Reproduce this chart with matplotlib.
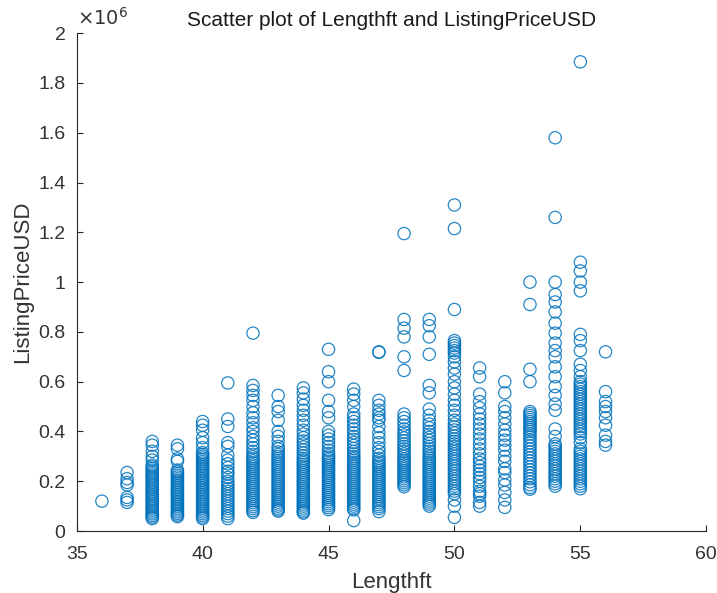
import matplotlib.pyplot as plt
import numpy as np

# listing prices in thousands of USD, one list per boat length (ft)
price_36 = [120]
price_37 = [235, 210, 195, 185, 135, 125, 115]
price_38 = [360, 345, 320, 300, 285, 265, 258, 251, 244, 237, 230, 223, 216, 209, 202,
            195, 188, 181, 174, 167, 160, 153, 146, 139, 132, 125, 118, 111, 104, 97,
            90, 83, 76, 69, 62, 56, 50]
price_39 = [345, 330, 290, 280, 245, 238, 231, 224, 217, 210, 203, 196, 189, 182, 175,
            168, 161, 154, 147, 140, 133, 126, 119, 112, 105, 98, 91, 84, 77, 70, 64, 58]
price_40 = [440, 425, 405, 375, 355, 335, 315, 308, 301, 294, 287, 280, 273, 266, 259,
            252, 245, 238, 231, 224, 217, 210, 203, 196, 189, 182, 175, 168, 161, 154,
            147, 140, 133, 126, 119, 112, 105, 98, 91, 84, 77, 70, 63, 56, 50]
price_41 = [595, 450, 420, 355, 340, 305, 285, 270, 255, 240, 230, 215, 200, 190, 180,
            170, 160, 150, 140, 130, 120, 110, 100, 90, 80, 70, 60, 50]
price_42 = [795, 585, 565, 545, 525, 500, 475, 455, 435, 415, 400, 380, 365, 350, 335,
            320, 308, 298, 290, 282, 274, 266, 258, 250, 242, 234, 226, 218, 210, 202,
            194, 186, 178, 170, 162, 154, 146, 138, 130, 122, 114, 106, 98, 90, 82, 75]
price_43 = [545, 500, 480, 445, 400, 380, 360, 340, 330, 318, 308, 300, 292, 284, 276,
            268, 260, 252, 244, 236, 228, 220, 212, 204, 196, 188, 180, 172, 164, 156,
            148, 140, 132, 124, 116, 108, 100, 92, 85, 80]
price_44 = [575, 555, 530, 505, 485, 465, 445, 425, 405, 390, 375, 362, 350, 338, 326,
            314, 302, 292, 284, 276, 268, 260, 252, 244, 236, 228, 220, 212, 204, 196,
            188, 180, 172, 164, 156, 148, 140, 132, 124, 116, 108, 100, 92, 84, 77, 72]
price_45 = [730, 640, 600, 525, 480, 455, 400, 385, 370, 355, 340, 325, 312, 302, 294,
            286, 278, 270, 262, 254, 246, 238, 230, 222, 214, 206, 198, 190, 182, 174,
            166, 158, 150, 142, 134, 126, 118, 110, 102, 94, 86]
price_46 = [570, 550, 525, 500, 470, 455, 440, 425, 410, 395, 380, 368, 356, 344, 332,
            320, 310, 300, 292, 284, 276, 268, 260, 252, 244, 236, 228, 220, 212, 204,
            196, 188, 180, 172, 164, 156, 148, 140, 132, 124, 116, 108, 100, 92, 85, 42]
price_47 = [720, 718, 525, 505, 485, 470, 455, 445, 420, 395, 375, 355, 335, 320, 305,
            292, 282, 274, 266, 258, 250, 242, 234, 226, 218, 210, 202, 194, 186, 178,
            170, 162, 154, 146, 138, 130, 122, 114, 106, 98, 90, 78]
price_48 = [1195, 850, 815, 780, 700, 645, 470, 455, 440, 425, 410, 398, 386, 374, 362,
            350, 340, 330, 320, 310, 300, 290, 282, 274, 266, 258, 250, 242, 234, 226,
            218, 210, 202, 194, 186, 178]
price_49 = [850, 825, 780, 710, 585, 555, 490, 465, 445, 430, 415, 400, 388, 376, 364,
            352, 340, 330, 320, 310, 300, 292, 284, 276, 268, 260, 252, 244, 236, 228,
            220, 212, 204, 196, 188, 180, 172, 164, 156, 148, 140, 132, 124, 116, 108, 100]
price_50 = [1310, 1215, 890, 765, 755, 745, 735, 725, 715, 700, 680, 655, 630, 600, 575,
            550, 525, 505, 485, 465, 445, 430, 418, 406, 394, 382, 370, 360, 350, 340,
            330, 320, 310, 300, 290, 280, 270, 260, 250, 240, 230, 220, 210, 200, 190,
            180, 170, 160, 150, 125, 100, 55]
price_51 = [655, 620, 550, 520, 495, 470, 450, 430, 410, 390, 370, 350, 330, 310, 290,
            275, 260, 245, 230, 215, 200, 180, 160, 150, 140, 115, 100]
price_52 = [600, 555, 500, 480, 455, 430, 405, 385, 365, 345, 325, 300, 280, 250, 235,
            205, 185, 155, 125, 95]
price_53 = [1000, 910, 650, 600, 480, 472, 464, 456, 448, 440, 432, 424, 416, 408, 400,
            390, 378, 366, 354, 342, 330, 318, 306, 294, 282, 270, 258, 246, 234, 222,
            210, 198, 186, 175, 168]
price_54 = [1580, 1260, 1000, 950, 920, 880, 835, 795, 755, 725, 700, 660, 620, 580, 545,
            510, 485, 410, 380, 350, 340, 330, 320, 310, 300, 290, 280, 270, 260, 250,
            240, 230, 220, 210, 200, 190, 180]
price_55 = [1885, 1080, 1045, 1000, 965, 790, 765, 725, 670, 645, 620, 600, 590, 580, 570,
            560, 550, 540, 530, 520, 510, 500, 490, 480, 470, 460, 450, 440, 430, 420,
            410, 400, 390, 375, 355, 330, 320, 310, 300, 290, 280, 270, 260, 250, 240,
            230, 220, 210, 200, 190, 180, 170]
price_56 = [720, 560, 520, 500, 480, 455, 425, 385, 360, 345]

lengths = [36, 37, 38, 39, 40, 41, 42, 43, 44, 45, 46, 47, 48, 49, 50, 51, 52, 53, 54, 55, 56]
prices = [price_36, price_37, price_38, price_39, price_40, price_41, price_42, price_43,
          price_44, price_45, price_46, price_47, price_48, price_49, price_50, price_51,
          price_52, price_53, price_54, price_55, price_56]

x = []
y = []
for L, p in zip(lengths, prices):
    x += [L] * len(p)
    y += [v * 1000 for v in p]

plt.rcParams['font.family'] = ['Liberation Sans', 'DejaVu Sans']
txt = '#333333'

fig = plt.figure(figsize=(7.17, 5.93), dpi=100)
ax = fig.add_axes([0.107, 0.1045, 0.878, 0.8395])
ax.scatter(x, y, s=78, facecolors='none', edgecolors='#0072BD', linewidths=0.9, alpha=0.85)

ax.set_xlim(35, 60)
ax.set_ylim(0, 2e6)
ax.set_xticks([35, 40, 45, 50, 55, 60])
yt = np.arange(0, 2.01, 0.2)
ax.set_yticks(yt * 1e6)
ax.set_yticklabels(['0' if v == 0 else ('2' if abs(v - 2) < 1e-9 else ('1' if abs(v - 1) < 1e-9 else f'{v:.1f}')) for v in yt])

for s in ['top', 'right']:
    ax.spines[s].set_visible(False)
for s in ['left', 'bottom']:
    ax.spines[s].set_color('#262626')
    ax.spines[s].set_linewidth(0.8)
ax.tick_params(direction='in', length=4, width=0.8, color='#262626', labelcolor=txt, labelsize=14)
ax.tick_params(axis='x', pad=11)
ax.tick_params(axis='y', pad=8)

ax.text(0.0, 1.008, r'$\times 10^{6}$', transform=ax.transAxes, fontsize=14,
        color=txt, ha='left', va='bottom')
ax.set_title('Scatter plot of Lengthft and ListingPriceUSD', fontsize=15, color='#1a1a1a', pad=5)
ax.set_xlabel('Lengthft', fontsize=16, color=txt, labelpad=6)
ax.set_ylabel('ListingPriceUSD', fontsize=16, color=txt, labelpad=4)

fig.savefig('out.png', dpi=100)
